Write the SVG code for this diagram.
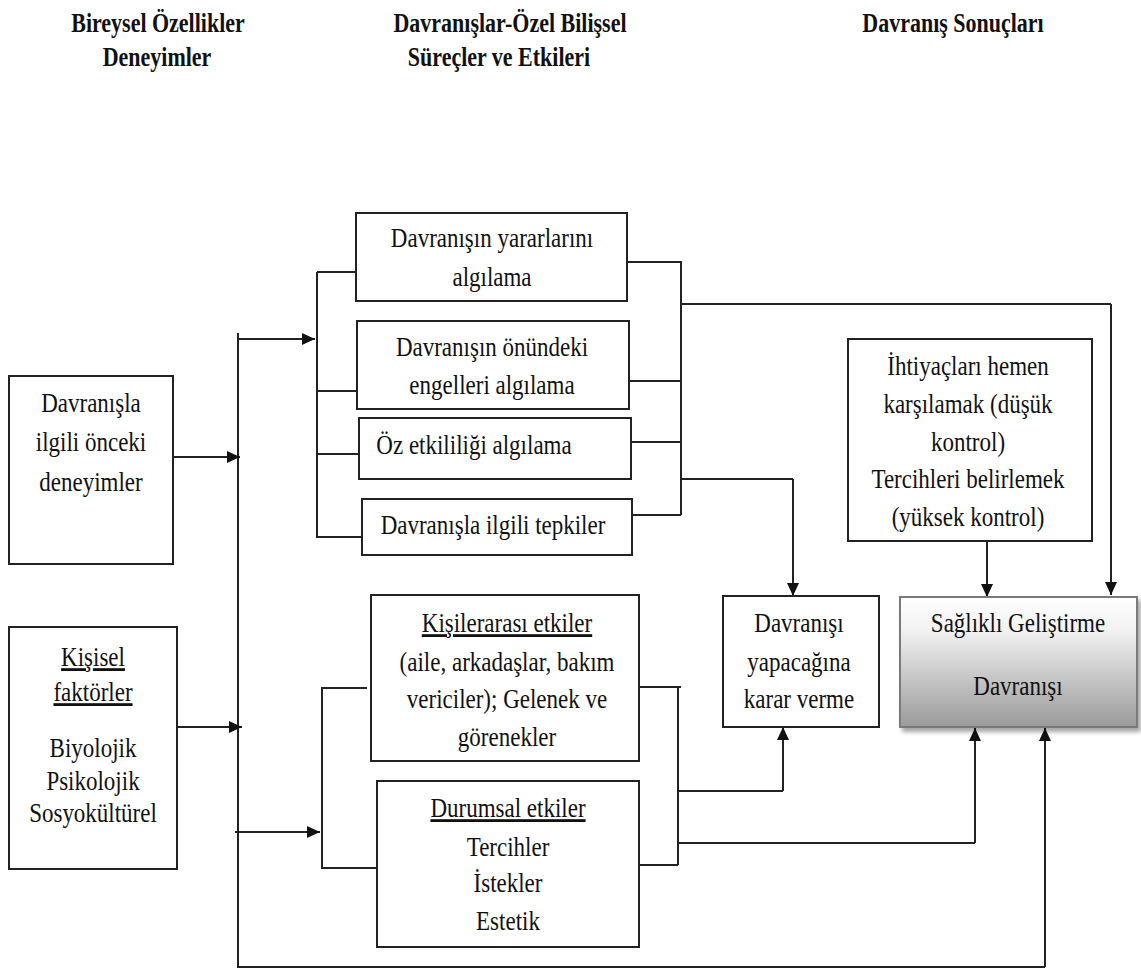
<svg xmlns="http://www.w3.org/2000/svg" width="1141" height="971" viewBox="0 0 1141 971">
<style>
.t{font-family:"Liberation Serif","DejaVu Serif",serif;font-size:23px;fill:#111;text-anchor:middle}
.h{font-family:"Liberation Serif","DejaVu Serif",serif;font-size:22px;font-weight:bold;fill:#111;text-anchor:middle}
.u{text-decoration:underline}
.box{fill:#fff;stroke:#222;stroke-width:2}
.c{fill:none;stroke:#222;stroke-width:2}
.a{fill:none;stroke:#222;stroke-width:2;marker-end:url(#arr)}
</style>
<defs>
<marker id="arr" markerUnits="userSpaceOnUse" markerWidth="14" markerHeight="12" refX="13" refY="6" orient="auto">
<path d="M0,0 L13,6 L0,12 z" fill="#111"/>
</marker>
<linearGradient id="g" x1="0" y1="0" x2="0" y2="1">
<stop offset="0" stop-color="#ffffff"/>
<stop offset="0.25" stop-color="#f2f2f2"/>
<stop offset="1" stop-color="#9a9a9a"/>
</linearGradient>
<filter id="sh" x="-10%" y="-10%" width="130%" height="130%">
<feDropShadow dx="3" dy="4" stdDeviation="2" flood-color="#000" flood-opacity="0.35"/>
</filter>
</defs>

<g id="headers">
<text class="h" transform="translate(158,32) scale(1,1.2)">Bireysel Özellikler</text>
<text class="h" transform="translate(157,66) scale(1,1.2)">Deneyimler</text>
<text class="h" transform="translate(510,32) scale(1,1.2)">Davranışlar-Özel Bilişsel</text>
<text class="h" transform="translate(499,66) scale(1,1.2)">Süreçler ve Etkileri</text>
<text class="h" transform="translate(953,32) scale(1,1.2)">Davranış Sonuçları</text>
</g>

<g id="connectors">
<path class="c" d="M238,333 V967 H1045"/>
<path class="a" d="M1045,967 V728"/>
<path class="a" d="M173,457 H240"/>
<path class="a" d="M177,727 H242"/>
<path class="a" d="M238,339 H315"/>
<path class="a" d="M235,832 H320"/>
<path class="c" d="M317,272 V538"/>
<path class="c" d="M317,272 H357 M317,391 H357 M317,454 H359 M317,537 H362"/>
<path class="c" d="M627,262 H681 V515 M629,381 H681 M631,442 H681 M632,515 H681"/>
<path class="c" d="M681,304 H1111"/>
<path class="a" d="M1111,304 V595"/>
<path class="c" d="M681,479 H793"/>
<path class="a" d="M793,479 V596"/>
<path class="a" d="M987,541 V597"/>
<path class="c" d="M367,688 H322 V868 H377"/>
<path class="c" d="M639,687 H681 M678,687 V865 M639,865 H678"/>
<path class="c" d="M678,791 H783"/>
<path class="a" d="M783,791 V727"/>
<path class="c" d="M678,843 H975"/>
<path class="a" d="M975,843 V728"/>
</g>

<g id="n-onceki">
<rect class="box" x="9" y="376" width="164" height="188"/>
<text class="t" transform="translate(91,412) scale(1,1.22)">Davranışla</text>
<text class="t" transform="translate(91,451) scale(1,1.22)">ilgili önceki</text>
<text class="t" transform="translate(91,491) scale(1,1.22)">deneyimler</text>
</g>

<g id="n-kisisel">
<rect class="box" x="9" y="627" width="168" height="242"/>
<text class="t u" transform="translate(93,666) scale(1,1.22)">Kişisel</text>
<text class="t u" transform="translate(93,701) scale(1,1.22)">faktörler</text>
<text class="t" transform="translate(93,757) scale(1,1.22)">Biyolojik</text>
<text class="t" transform="translate(93,790) scale(1,1.22)">Psikolojik</text>
<text class="t" transform="translate(93,822) scale(1,1.22)">Sosyokültürel</text>
</g>

<g id="n-yarar">
<rect class="box" x="356" y="213" width="271" height="88"/>
<text class="t" transform="translate(492,247) scale(1,1.22)">Davranışın yararlarını</text>
<text class="t" transform="translate(492,286) scale(1,1.22)">algılama</text>
</g>

<g id="n-engel">
<rect class="box" x="357" y="321" width="272" height="88"/>
<text class="t" transform="translate(492,356) scale(1,1.22)">Davranışın önündeki</text>
<text class="t" transform="translate(492,394) scale(1,1.22)">engelleri algılama</text>
</g>

<g id="n-ozetk">
<rect class="box" x="359" y="418" width="272" height="61"/>
<text class="t" transform="translate(474,454) scale(1,1.22)">Öz etkililiği algılama</text>
</g>

<g id="n-tepki">
<rect class="box" x="362" y="499" width="270" height="56"/>
<text class="t" transform="translate(493,534) scale(1,1.22)">Davranışla ilgili tepkiler</text>
</g>

<g id="n-kisiler">
<rect class="box" x="371" y="595" width="268" height="166"/>
<text class="t u" transform="translate(507,632) scale(1,1.22)">Kişilerarası etkiler</text>
<text class="t" transform="translate(507,671) scale(1,1.22)">(aile, arkadaşlar, bakım</text>
<text class="t" transform="translate(507,708) scale(1,1.22)">vericiler); Gelenek ve</text>
<text class="t" transform="translate(507,746) scale(1,1.22)">görenekler</text>
</g>

<g id="n-durumsal">
<rect class="box" x="377" y="781" width="262" height="166"/>
<text class="t u" transform="translate(508,817) scale(1,1.22)">Durumsal etkiler</text>
<text class="t" transform="translate(508,856) scale(1,1.22)">Tercihler</text>
<text class="t" transform="translate(508,892) scale(1,1.22)">İstekler</text>
<text class="t" transform="translate(508,930) scale(1,1.22)">Estetik</text>
</g>

<g id="n-karar">
<rect class="box" x="723" y="596" width="156" height="131"/>
<text class="t" transform="translate(799,632) scale(1,1.22)">Davranışı</text>
<text class="t" transform="translate(799,671) scale(1,1.22)">yapacağına</text>
<text class="t" transform="translate(799,708) scale(1,1.22)">karar verme</text>
</g>

<g id="n-ihtiyac">
<rect class="box" x="848" y="339" width="244" height="202"/>
<text class="t" transform="translate(968,375) scale(1,1.22)">İhtiyaçları hemen</text>
<text class="t" transform="translate(968,413) scale(1,1.22)">karşılamak (düşük</text>
<text class="t" transform="translate(968,451) scale(1,1.22)">kontrol)</text>
<text class="t" transform="translate(968,488) scale(1,1.22)">Tercihleri belirlemek</text>
<text class="t" transform="translate(968,526) scale(1,1.22)">(yüksek kontrol)</text>
</g>

<g id="n-saglikli">
<rect x="900" y="597" width="237" height="130" fill="url(#g)" stroke="#7a7a7a" stroke-width="2" filter="url(#sh)"/>
<text class="t" transform="translate(1018,632) scale(1,1.22)">Sağlıklı Geliştirme</text>
<text class="t" transform="translate(1018,695) scale(1,1.22)">Davranışı</text>
</g>
</svg>
